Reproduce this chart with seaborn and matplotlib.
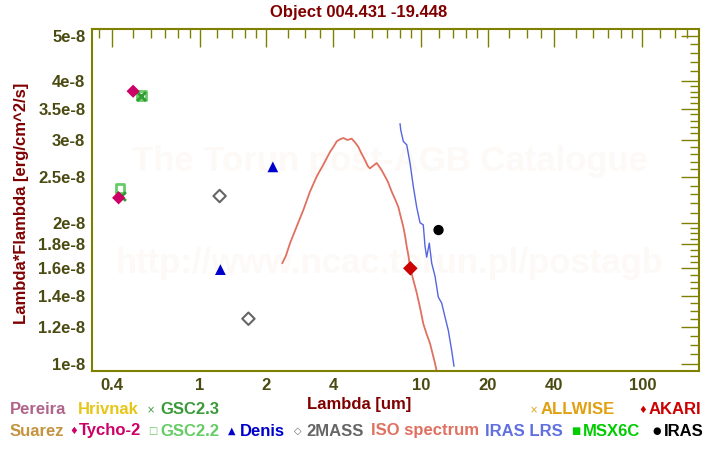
import numpy as np
import pandas as pd
import seaborn as sns
import matplotlib.pyplot as plt

# ISO spectrum (um, erg/cm2/s)
iso_wl = [2.36, 2.45, 2.56, 2.75, 2.94, 3.15, 3.38, 3.62, 3.88, 4.02, 4.16, 4.30, 4.46,
          4.65, 4.86, 5.05, 5.21, 5.40, 5.58, 5.75, 5.88, 6.05, 6.31, 6.60, 6.88, 7.10,
          7.37, 7.65, 7.90, 8.10, 8.32, 8.48, 8.62, 8.78, 8.92, 9.20, 9.56, 9.90, 10.24,
          10.60, 10.98, 11.30, 11.57, 11.87]
iso_flux = [1.64e-8, 1.70e-8, 1.81e-8, 1.97e-8, 2.13e-8, 2.33e-8, 2.51e-8, 2.66e-8, 2.83e-8,
            2.90e-8, 2.98e-8, 3.01e-8, 3.03e-8, 3.00e-8, 3.02e-8, 2.96e-8, 2.90e-8, 2.80e-8,
            2.72e-8, 2.64e-8, 2.61e-8, 2.64e-8, 2.68e-8, 2.60e-8, 2.51e-8, 2.44e-8, 2.33e-8,
            2.24e-8, 2.16e-8, 2.06e-8, 1.96e-8, 1.87e-8, 1.78e-8, 1.70e-8, 1.61e-8, 1.52e-8,
            1.42e-8, 1.32e-8, 1.22e-8, 1.16e-8, 1.108e-8, 1.05e-8, 1.005e-8, 0.949e-8]

# IRAS LRS
lrs_wl = [8.04, 8.10, 8.32, 8.62, 8.92, 9.23, 9.56, 9.90, 10.24, 10.43, 10.61, 10.90,
          11.18, 11.57, 11.97, 12.40, 12.84, 13.29, 13.76, 14.10]
lrs_flux = [3.25e-8, 3.15e-8, 2.98e-8, 2.93e-8, 2.68e-8, 2.39e-8, 2.16e-8, 2.00e-8, 1.98e-8,
            1.78e-8, 1.69e-8, 1.81e-8, 1.64e-8, 1.54e-8, 1.39e-8, 1.35e-8, 1.26e-8, 1.18e-8,
            1.07e-8, 0.99e-8]

# photometry
tycho_wl, tycho_flux = [0.43, 0.50], [2.26e-8, 3.81e-8]
gsc22_wl, gsc22_flux = [0.436, 0.545], [2.37e-8, 3.73e-8]
gsc23_wl, gsc23_flux = [0.44, 0.545], [2.28e-8, 3.73e-8]
denis_wl, denis_flux = [1.24, 2.14], [1.59e-8, 2.63e-8]
mass_wl, mass_flux = [1.23, 1.66], [2.28e-8, 1.25e-8]
akari_wl, akari_flux = [8.95], [1.60e-8]
iras_wl, iras_flux = [12.0], [1.93e-8]

x_major = [0.4, 1, 2, 4, 10, 20, 40, 100]
x_labels = ['0.4', '1', '2', '4', '10', '20', '40', '100']
y_major = [1e-8, 1.2e-8, 1.4e-8, 1.6e-8, 1.8e-8, 2e-8, 2.5e-8, 3e-8, 3.5e-8, 4e-8, 5e-8]
y_labels = ['1e-8', '1.2e-8', '1.4e-8', '1.6e-8', '1.8e-8', '2e-8', '2.5e-8', '3e-8',
            '3.5e-8', '4e-8', '5e-8']

olive = '#808000'
tickc = '#4a4a12'
dred = '#800000'
font = ['Liberation Sans', 'DejaVu Sans']

sns.set_style('white')
plt.rcParams['font.family'] = font

fig = plt.figure(figsize=(7.2, 4.5), dpi=100)
ax = fig.add_axes([92.3 / 720, 1 - 370.7 / 450, (699.3 - 92.3) / 720, (370.7 - 29.3) / 450])

# watermark
ax.text(0.49, 1 - (162 - 29.3) / 341.4, 'The Torun post-AGB Catalogue', transform=ax.transAxes,
        ha='center', va='center', fontsize=25, fontweight='bold', color='#fcf9f6', zorder=0)
ax.text(0.49, 1 - (263 - 29.3) / 341.4, 'http://www.ncac.torun.pl/postagb', transform=ax.transAxes,
        ha='center', va='center', fontsize=25, fontweight='bold', color='#fcf9f6', zorder=0)

iso = pd.DataFrame({'wl': iso_wl, 'flux': iso_flux})
lrs = pd.DataFrame({'wl': lrs_wl, 'flux': lrs_flux})
sns.lineplot(data=iso, x='wl', y='flux', ax=ax, color='#e07060', lw=1.3, sort=False, estimator=None)
sns.lineplot(data=lrs, x='wl', y='flux', ax=ax, color='#5565e0', lw=1.0, sort=False, estimator=None)

sns.scatterplot(x=gsc22_wl, y=gsc22_flux, ax=ax, marker='s', s=40, facecolor='none',
                edgecolor='#66cc66', linewidth=2, zorder=3)
sns.scatterplot(x=gsc23_wl, y=gsc23_flux, ax=ax, marker='x', s=40, color='#339933',
                linewidth=2, zorder=4)
sns.scatterplot(x=tycho_wl, y=tycho_flux, ax=ax, marker='D', s=45, color='#cc0066',
                edgecolor='none', zorder=5)
sns.scatterplot(x=denis_wl, y=denis_flux, ax=ax, marker='^', s=60, color='#0000cc',
                edgecolor='none', zorder=5)
sns.scatterplot(x=mass_wl, y=mass_flux, ax=ax, marker='D', s=40, facecolor='none',
                edgecolor='#666666', linewidth=1.5, zorder=5)
sns.scatterplot(x=akari_wl, y=akari_flux, ax=ax, marker='D', s=55, color='#cc0000',
                edgecolor='none', zorder=5)
sns.scatterplot(x=iras_wl, y=iras_flux, ax=ax, marker='o', s=55, color='black',
                edgecolor='none', zorder=5)

ax.set_xscale('log')
ax.set_yscale('log')
ax.set_xlim(0.327, 181)
ax.set_ylim(0.969e-8, 5.16e-8)

x_minor = [0.35, 0.5, 0.6, 0.7, 0.8, 0.9, 1.2, 1.4, 1.6, 1.8, 2.5, 3, 3.5, 5, 6, 7, 8, 9,
           12, 14, 16, 18, 25, 30, 35, 50, 60, 70, 80, 90, 120, 140, 160]
y_minor = list(np.arange(1.05, 2.0, 0.05)) + list(np.arange(2.1, 4.0, 0.1)) + \
    list(np.arange(4.2, 5.2, 0.2))
y_minor = [v * 1e-8 for v in y_minor if not any(abs(v * 1e-8 - m) < 1e-11 for m in y_major)]

ax.set_xticks(x_major)
ax.set_xticklabels(x_labels)
ax.set_xticks(x_minor, minor=True)
ax.set_xticklabels([], minor=True)
ax.set_yticks(y_major)
ax.set_yticklabels(y_labels)
ax.set_yticks(y_minor, minor=True)
ax.set_yticklabels([], minor=True)

ax.tick_params(which='both', direction='in', top=True, right=True, color=olive, width=1)
ax.tick_params(which='major', length=13)
ax.tick_params(which='minor', length=6.5)
ax.tick_params(labelsize=12, labelcolor=tickc, pad=5)
for lab in ax.get_xticklabels() + ax.get_yticklabels():
    lab.set_fontweight('bold')
for sp in ax.spines.values():
    sp.set_color(olive)
    sp.set_linewidth(1.5)
ax.set_xlabel('')
ax.set_ylabel('')

fig.text(359 / 720, 1 - 12 / 450, 'Object 004.431 -19.448', ha='center', va='center',
         fontsize=12, fontweight='bold', color=dred)
fig.text(22 / 720, 1 - 203 / 450, 'Lambda*Flambda [erg/cm^2/s]', rotation=90, ha='center',
         va='center', fontsize=12, fontweight='bold', color=dred)
fig.text(359 / 720, 1 - 405 / 450, 'Lambda [um]', ha='center', va='center',
         fontsize=12, fontweight='bold', color=dred)

# legend entries: (symbol x px, label x px, y px, symbol, label, colour)
legend = [
    (None, 10, 410, '', 'Pereira', '#b0648a'),
    (None, 78, 410, '', 'Hrivnak', '#e6c619'),
    (147, 160, 410, '×', 'GSC2.3', '#3a9a3a'),
    (530, 541, 410, '×', 'ALLWISE', '#e0a010'),
    (638, 649, 410, '♦', 'AKARI', '#cc0000'),
    (None, 10, 431, '', 'Suarez', '#c49440'),
    (69, 79, 431, '♦', 'Tycho-2', '#cc0066'),
    (148, 160, 431, '□', 'GSC2.2', '#66cc66'),
    (228, 240, 431, '▲', 'Denis', '#0000cc'),
    (294, 306, 431, '◇', '2MASS', '#666666'),
    (None, 371, 431, '', 'ISO spectrum', '#e07060'),
    (None, 485, 431, '', 'IRAS LRS', '#6070e0'),
    (571, 583, 431, '■', 'MSX6C', '#00cc00'),
    (652, 664, 431, '●', 'IRAS', '#000000'),
]
for sx, tx, py, sym, lab, col in legend:
    if sym:
        fig.text(sx / 720, 1 - py / 450, sym, ha='left', va='center', fontsize=7,
                 color=col, family=['DejaVu Sans'])
    fig.text(tx / 720, 1 - py / 450, lab, ha='left', va='center', fontsize=12,
             fontweight='bold', color=col)

fig.savefig('out.png', dpi=100, facecolor='white')
